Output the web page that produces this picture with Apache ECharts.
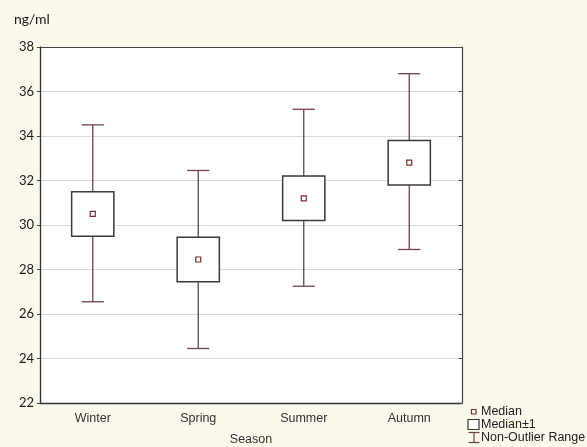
<!DOCTYPE html>
<html>
<head>
<meta charset="utf-8">
<script src="https://cdn.jsdelivr.net/npm/echarts@6/dist/echarts.min.js"></script>
<style>
  html, body { margin: 0; padding: 0; background: #fbf8ec; }
  #chart { width: 587px; height: 447px; }
</style>
</head>
<body>
<div id="chart"></div>
<script>
// seasons and their box values (ng/ml)
const seasons = ['Winter', 'Spring', 'Summer', 'Autumn']
const whiskerLow = [26.55, 24.45, 27.25, 28.9]
const boxLow = [29.5, 27.45, 30.2, 31.8]
const medians = [30.5, 28.45, 31.2, 32.8]
const boxHigh = [31.5, 29.45, 32.2, 33.8]
const whiskerHigh = [34.5, 32.45, 35.2, 36.8]
const yTicks = [22, 24, 26, 28, 30, 32, 34, 36, 38]

const whiskerColor = '#6e4448'
const boxColor = '#3a3a3a'
const medianColor = '#7a2e30'

const chart = echarts.init(document.getElementById('chart'))

const boxData = seasons.map((s, i) => [i, whiskerLow[i], boxLow[i], medians[i], boxHigh[i], whiskerHigh[i]])

function renderBox(params, api) {
  const idx = api.value(0)
  const band = api.size([1, 0])[0]
  const x = api.coord([idx, 0])[0]
  const yWL = api.coord([idx, api.value(1)])[1]
  const yBL = api.coord([idx, api.value(2)])[1]
  const yMed = api.coord([idx, api.value(3)])[1]
  const yBH = api.coord([idx, api.value(4)])[1]
  const yWH = api.coord([idx, api.value(5)])[1]
  const boxW = band * 0.4
  const capW = band * 0.21
  const wStyle = { stroke: whiskerColor, lineWidth: 1.3, fill: null }
  return {
    type: 'group',
    children: [
      { type: 'line', shape: { x1: x, y1: yWH, x2: x, y2: yBH }, style: wStyle },
      { type: 'line', shape: { x1: x, y1: yBL, x2: x, y2: yWL }, style: wStyle },
      { type: 'line', shape: { x1: x - capW / 2, y1: yWH, x2: x + capW / 2, y2: yWH }, style: wStyle },
      { type: 'line', shape: { x1: x - capW / 2, y1: yWL, x2: x + capW / 2, y2: yWL }, style: wStyle },
      { type: 'rect', shape: { x: x - boxW / 2, y: yBH, width: boxW, height: yBL - yBH }, style: { fill: '#fff', stroke: boxColor, lineWidth: 1.5 } },
      { type: 'rect', shape: { x: x - 2.5, y: yMed - 2.5, width: 5, height: 5 }, style: { fill: '#fff', stroke: medianColor, lineWidth: 1.2 } }
    ]
  }
}

const legendFont = '12.5px "Liberation Sans"'

const option = {
  backgroundColor: '#fbf8ec',
  animation: false,
  grid: {
    left: 40, right: 125, top: 47, bottom: 44,
    outerBoundsMode: 'none',
    containLabel: false,
    show: true, backgroundColor: '#fff', borderWidth: 0
  },
  xAxis: [
    {
      type: 'category',
      data: seasons,
      position: 'bottom',
      name: 'Season',
      nameLocation: 'middle',
      nameGap: 30,
      nameTextStyle: { fontFamily: 'Liberation Sans', fontSize: 12.5, color: '#333' },
      axisLine: { lineStyle: { color: '#333', width: 1.3 } },
      axisTick: { inside: true, length: 3, alignWithLabel: true, lineStyle: { color: '#444' } },
      axisLabel: { margin: 9, fontFamily: 'Liberation Sans', fontSize: 12.5, color: '#333' },
      splitLine: { show: false }
    },
    {
      type: 'category',
      data: seasons,
      position: 'top',
      axisLine: { lineStyle: { color: '#444', width: 1.2 } },
      axisTick: { inside: true, length: 3, alignWithLabel: true, lineStyle: { color: '#444' } },
      axisLabel: { show: false },
      splitLine: { show: false }
    }
  ],
  yAxis: [
    {
      type: 'value',
      min: 22, max: 38, interval: 2,
      position: 'left',
      axisLine: { show: true, lineStyle: { color: '#333', width: 1.3 } },
      axisTick: { show: true, length: 3, lineStyle: { color: '#444' } },
      axisLabel: {
        margin: 6, fontFamily: 'Lato', fontSize: 13, color: '#1a1a1a',
        formatter: v => (yTicks.includes(v) ? String(v) : '')
      },
      splitLine: { show: true, lineStyle: { color: '#d9d9d9', width: 1 } }
    },
    {
      type: 'value',
      min: 22, max: 38, interval: 2,
      position: 'right',
      axisLine: { show: true, lineStyle: { color: '#444', width: 1.2 } },
      axisTick: { show: true, inside: true, length: 3, lineStyle: { color: '#444' } },
      axisLabel: { show: false },
      splitLine: { show: false }
    }
  ],
  series: [
    {
      type: 'custom',
      xAxisIndex: 0,
      yAxisIndex: 0,
      data: boxData,
      encode: { x: 0, y: [1, 2, 3, 4, 5] },
      renderItem: renderBox,
      z: 10
    }
  ],
  graphic: [
    { type: 'text', left: 14, top: 12, style: { text: 'ng/ml', font: '14px Lato', fill: '#1a1a1a' } },
    // legend
    { type: 'rect', shape: { x: 471.5, y: 409.5, width: 4.5, height: 4.5 }, style: { fill: '#fff', stroke: medianColor, lineWidth: 1.2 } },
    { type: 'text', x: 481, y: 411.5, style: { text: 'Median', font: legendFont, fill: '#222', verticalAlign: 'middle' } },
    { type: 'rect', shape: { x: 468, y: 419.5, width: 11, height: 10 }, style: { fill: '#fff', stroke: boxColor, lineWidth: 1.2 } },
    { type: 'text', x: 481, y: 424.5, style: { text: 'Median±1', font: legendFont, fill: '#222', verticalAlign: 'middle' } },
    { type: 'line', shape: { x1: 468.5, y1: 432.5, x2: 479.5, y2: 432.5 }, style: { stroke: whiskerColor, lineWidth: 1.2 } },
    { type: 'line', shape: { x1: 474, y1: 432.5, x2: 474, y2: 442.5 }, style: { stroke: whiskerColor, lineWidth: 1.2 } },
    { type: 'line', shape: { x1: 468.5, y1: 442.5, x2: 479.5, y2: 442.5 }, style: { stroke: whiskerColor, lineWidth: 1.2 } },
    { type: 'text', x: 481, y: 437.5, style: { text: 'Non-Outlier Range', font: legendFont, fill: '#222', verticalAlign: 'middle' } }
  ]
}

chart.setOption(option)
</script>
</body>
</html>
